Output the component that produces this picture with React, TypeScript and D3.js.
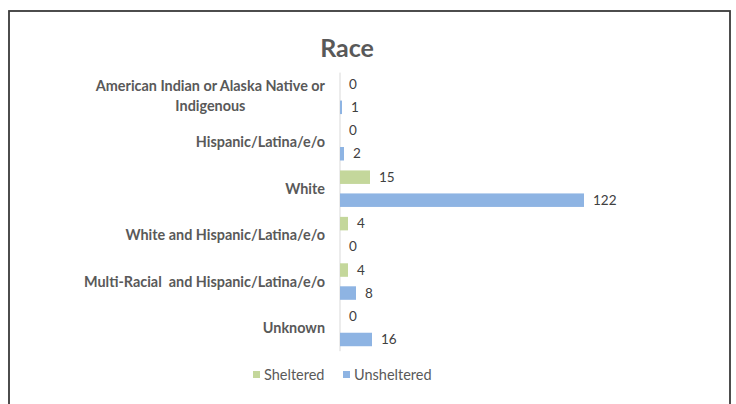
import React, { useEffect, useRef } from "react";
import * as d3 from "d3";

const categories: string[][] = [
  ["American Indian or Alaska Native or", "Indigenous"],
  ["Hispanic/Latina/e/o"],
  ["White"],
  ["White and Hispanic/Latina/e/o"],
  ["Multi-Racial  and Hispanic/Latina/e/o"],
  ["Unknown"],
];
const sheltered: number[] = [0, 0, 15, 4, 4, 0];
const unsheltered: number[] = [1, 2, 122, 0, 8, 16];
const seriesNames: string[] = ["Sheltered", "Unsheltered"];
const seriesColors: string[] = ["#C4D79B", "#8EB4E3"];

const W = 736;
const H = 404;
const FONT = "Lato, 'Open Sans', sans-serif";

export default function App() {
  const ref = useRef<SVGSVGElement>(null);

  const keys = categories.map((c) => c.join(" "));
  const y = d3.scaleBand<string>().domain(keys).range([72.6, 351.2]).padding(0);
  const inner = d3
    .scaleBand<string>()
    .domain(seriesNames)
    .range([0, y.bandwidth()])
    .paddingInner(0.413)
    .paddingOuter(0.216);
  const x = d3.scaleLinear().domain([0, 122]).range([340, 584]);
  const values = [sheltered, unsheltered];

  useEffect(() => {
    const svg = d3.select(ref.current);
    svg.selectAll<SVGTextElement, unknown>("text.catlabel").each(function () {
      const t = d3.select(this);
      const spans = t.selectAll<SVGTSpanElement, unknown>("tspan");
      if (spans.size() > 1) {
        let maxW = 0;
        spans.each(function () {
          maxW = Math.max(maxW, this.getComputedTextLength());
        });
        const cx = 325 - maxW / 2;
        t.attr("text-anchor", "middle");
        spans.attr("x", cx);
      }
    });
  }, []);

  return (
    <svg
      ref={ref}
      width={W}
      height={H}
      style={{ position: "absolute", left: 0, top: 0, background: "#fff" }}
      fontFamily={FONT}
    >
      <rect x={0} y={0} width={W} height={H} fill="#fff" />
      <rect x={9} y={11} width={721} height={410} fill="none" stroke="#3a3a3a" strokeWidth={1.8} />
      <text x={347} y={57} textAnchor="middle" fontSize={25} fontWeight={700} fill="#595959">
        Race
      </text>
      <line x1={x(0)} x2={x(0)} y1={y.range()[0]} y2={y.range()[1]} stroke="#D9D9D9" strokeWidth={1} />
      {categories.map((lines, i) => {
        const cy = (y(keys[i]) as number) + y.bandwidth() / 2;
        const lh = 19.5;
        const y0 = cy - ((lines.length - 1) * lh) / 2;
        return (
          <text
            key={keys[i]}
            className="catlabel"
            x={325}
            textAnchor="end"
            fontSize={14.4}
            fontWeight={700}
            fill="#595959"
            style={{ whiteSpace: "pre" }}
          >
            {lines.map((l, j) => (
              <tspan key={j} x={325} y={y0 + j * lh} dy="0.35em">
                {l}
              </tspan>
            ))}
          </text>
        );
      })}
      {values.map((vals, s) =>
        vals.map((v, i) => {
          const by = (y(keys[i]) as number) + (inner(seriesNames[s]) as number);
          return (
            <g key={`${s}-${i}`}>
              <rect
                x={x(0)}
                y={by}
                width={Math.max(0, x(v) - x(0))}
                height={inner.bandwidth()}
                fill={seriesColors[s]}
              />
              <text
                x={x(v) + 9}
                y={by + inner.bandwidth() / 2}
                dy="0.35em"
                fontSize={13.5}
                fill="#404040"
              >
                {v}
              </text>
            </g>
          );
        })
      )}
      {seriesNames.map((n, s) => {
        const lx = [253, 343][s];
        return (
          <g key={n}>
            <rect x={lx} y={371} width={7} height={7} fill={seriesColors[s]} />
            <text x={lx + 11} y={375} dy="0.35em" fontSize={14.5} fill="#595959">
              {n}
            </text>
          </g>
        );
      })}
    </svg>
  );
}
